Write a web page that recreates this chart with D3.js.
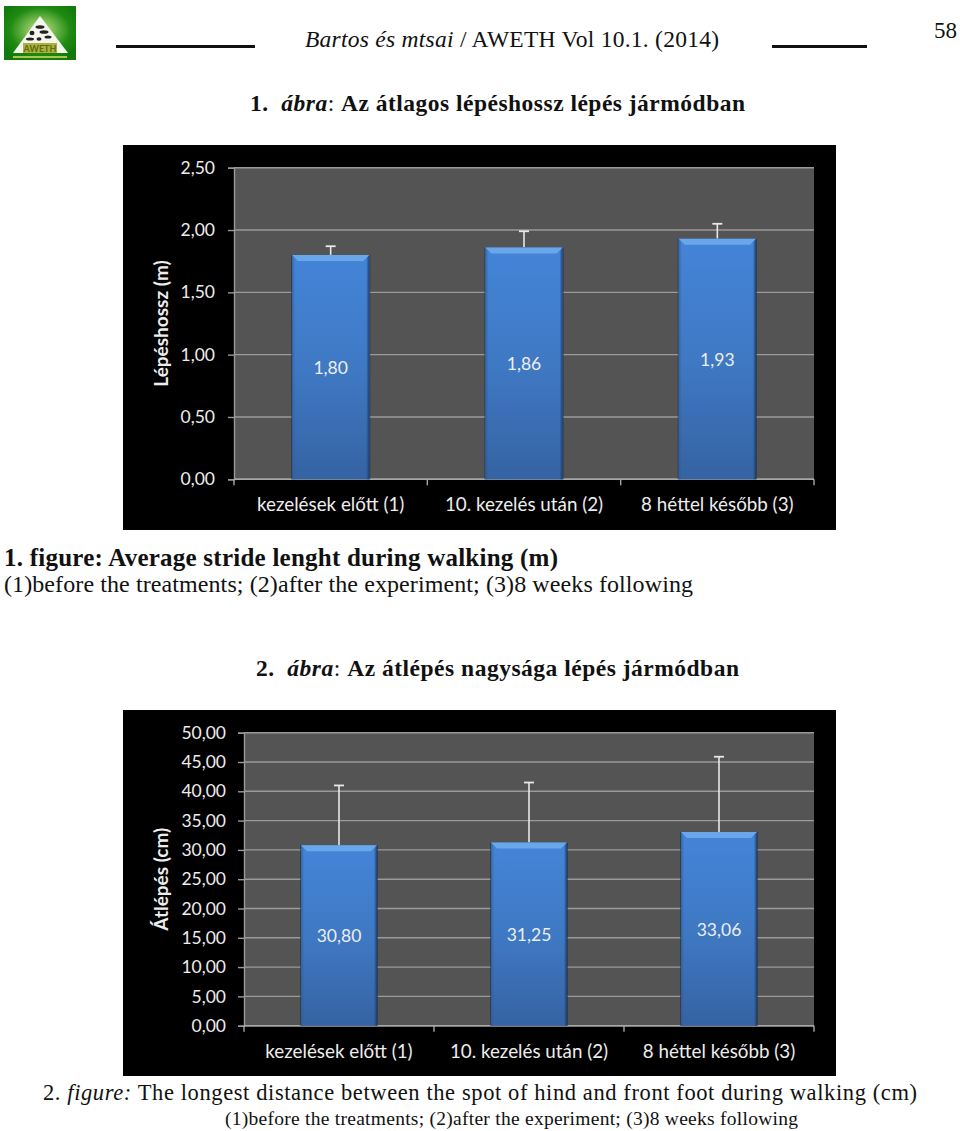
<!DOCTYPE html>
<html><head><meta charset="utf-8">
<script src="https://cdn.jsdelivr.net/npm/d3@7"></script>
<style>html,body{margin:0;padding:0;background:#fff}svg{display:block}
text{font-family:"Liberation Serif",serif;fill:#111}
.c text{font-family:Lato,sans-serif;fill:#ededed}</style></head><body><script>
const categories=["kezelések előtt (1)","10. kezelés után (2)","8 héttel később (3)"];
const strideValues=[1.80,1.86,1.93];
const strideErrorTops=[1.87,1.99,2.05];
const strideTicks=[0,0.5,1,1.5,2,2.5];
const crossValues=[30.80,31.25,33.06];
const crossErrorTops=[41.0,41.5,45.9];
const crossTicks=[0,5,10,15,20,25,30,35,40,45,50];
const comma=d3.format(",.2f");
const fmt=v=>comma(v).replace(".",",");

const svg=d3.select("body").append("svg").attr("width",960).attr("height",1131);
const defs=svg.append("defs");
const g1=defs.append("linearGradient").attr("id","bar").attr("x1",0).attr("x2",0).attr("y1",0).attr("y2",1);
g1.append("stop").attr("offset","0").attr("stop-color","#4484d8");
g1.append("stop").attr("offset","0.5").attr("stop-color","#3f79c4");
g1.append("stop").attr("offset","1").attr("stop-color","#3563a3");
const g2=defs.append("linearGradient").attr("id","side").attr("x1",0).attr("x2",1).attr("y1",0).attr("y2",0);
g2.append("stop").attr("offset","0").attr("stop-color","#2c5a96").attr("stop-opacity",.7);
g2.append("stop").attr("offset","0.04").attr("stop-color","#2c5a96").attr("stop-opacity",0);
g2.append("stop").attr("offset","0.96").attr("stop-color","#173a66").attr("stop-opacity",0);
g2.append("stop").attr("offset","1").attr("stop-color","#173a66").attr("stop-opacity",.9);
const g3=defs.append("radialGradient").attr("id","logoGlow").attr("cx","50%").attr("cy","45%").attr("r","60%");
g3.append("stop").attr("offset","0").attr("stop-color","#c9e88a");
g3.append("stop").attr("offset","0.7").attr("stop-color","#1f8a12");
g3.append("stop").attr("offset","1").attr("stop-color","#127a0c");

function chart(o){
  const g=svg.append("g").attr("class","c");
  g.append("rect").attr("x",o.px0).attr("y",o.py0).attr("width",o.px1-o.px0).attr("height",o.py1-o.py0).attr("fill","#000");
  const x=d3.scaleBand().domain(categories).range([o.x0,o.x1]).paddingInner(0.6).paddingOuter(0.3);
  const outer=d3.scaleBand().domain(categories).range([o.x0,o.x1]);
  const y=d3.scaleLinear().domain(o.domain).range([o.y0,o.y1]);
  g.append("rect").attr("x",o.x0).attr("y",o.y1).attr("width",o.x1-o.x0).attr("height",o.y0-o.y1).attr("fill","#545454");
  const ya=g.append("g").attr("transform",`translate(${o.x0},0)`)
    .call(d3.axisLeft(y).tickValues(o.ticks).tickFormat(fmt).tickSize(6).tickPadding(o.tickPad));
  ya.selectAll("text").attr("font-size",o.fsTick).attr("font-family","Lato,sans-serif").style("fill","#ededed");
  ya.selectAll("line").attr("stroke","#9a9a9a").attr("stroke-width",1.4);
  ya.select(".domain").attr("stroke","#9a9a9a").attr("stroke-width",1.4);
  g.append("g").selectAll("line").data(o.ticks).join("line")
    .attr("x1",o.x0).attr("x2",o.x1).attr("y1",d=>y(d)).attr("y2",d=>y(d))
    .attr("stroke","#9a9a9a").attr("stroke-width",1.4);
  const xa=g.append("g").attr("transform",`translate(0,${o.y0})`);
  xa.append("line").attr("x1",o.x0).attr("x2",o.x1).attr("stroke","#a8a8a8").attr("stroke-width",1.4);
  const edges=categories.map(c=>outer(c)).concat([o.x1]);
  xa.selectAll(".t").data(edges).join("line").attr("class","t").attr("x1",d=>d).attr("x2",d=>d).attr("y1",0).attr("y2",6).attr("stroke","#a8a8a8").attr("stroke-width",1.4);
  xa.selectAll("text").data(categories).join("text").attr("x",d=>outer(d)+outer.bandwidth()/2).attr("y",o.catY)
    .attr("text-anchor","middle").attr("font-size",o.fsCat).text(d=>d);
  const rows=categories.map((c,i)=>({c,v:o.values[i],e:o.errs[i]}));
  const b=g.append("g").selectAll("g").data(rows).join("g");
  const bw=x.bandwidth();
  b.append("line").attr("x1",d=>x(d.c)+bw/2).attr("x2",d=>x(d.c)+bw/2).attr("y1",d=>y(d.e)).attr("y2",d=>y(d.v)).attr("stroke","#e8e8e8").attr("stroke-width",1.6);
  b.append("line").attr("x1",d=>x(d.c)+bw/2-5).attr("x2",d=>x(d.c)+bw/2+5).attr("y1",d=>y(d.e)).attr("y2",d=>y(d.e)).attr("stroke","#e8e8e8").attr("stroke-width",1.8);
  b.append("rect").attr("x",d=>x(d.c)-1).attr("y",d=>y(d.v)).attr("width",bw+2).attr("height",d=>o.y0-y(d.v)).attr("fill","#1b2a40").attr("opacity",.55);
  b.append("rect").attr("x",d=>x(d.c)).attr("y",d=>y(d.v)).attr("width",bw).attr("height",d=>o.y0-y(d.v)).attr("fill","url(#bar)");
  b.append("rect").attr("x",d=>x(d.c)).attr("y",d=>y(d.v)).attr("width",bw).attr("height",d=>o.y0-y(d.v)).attr("fill","url(#side)");
  b.append("path").attr("d",d=>{const l=x(d.c),r=l+bw,t=y(d.v);return `M${l},${t}H${r}L${r-6},${t+6}H${l+6}Z`;}).attr("fill","#6aa6ea");
  b.append("text").attr("x",d=>x(d.c)+bw/2).attr("y",d=>(y(d.v)+o.y0)/2+7).attr("text-anchor","middle").attr("font-size",o.fsTick).text(d=>fmt(d.v));
  g.append("text").attr("transform",`translate(${o.ylabX},${(o.y0+o.y1)/2+o.ylabDy}) rotate(-90)`).attr("text-anchor","middle")
    .attr("font-size",o.fsLab).attr("font-weight",700).text(o.ylabel);
}
chart({px0:123,px1:836,py0:145,py1:530,x0:234,x1:814,y0:479.3,y1:167.7,domain:[0,2.5],ticks:strideTicks,values:strideValues,errs:strideErrorTops,
  ylabel:"Lépéshossz (m)",ylabX:168,ylabDy:0,fsTick:17.5,fsCat:18.8,fsLab:19,tickPad:13,catY:32});
chart({px0:123,px1:836,py0:710,py1:1076,x0:244,x1:814,y0:1025.7,y1:732.7,domain:[0,50],ticks:crossTicks,values:crossValues,errs:crossErrorTops,
  ylabel:"Átlépés (cm)",ylabX:168,ylabDy:0,fsTick:17.5,fsCat:18.8,fsLab:19,tickPad:12,catY:32});

// page text
function t(x,y,size,parts,len){
  const el=svg.append("text").attr("x",x).attr("y",y).attr("font-size",size);
  if(len) el.attr("textLength",len).attr("lengthAdjust","spacing");
  parts.forEach(p=>el.append("tspan").attr("font-style",p.i?"italic":null).attr("font-weight",p.b?700:null).text(p.s));
  return el;
}
t(305,47,23.5,[{s:"Bartos és mtsai",i:1},{s:" / AWETH Vol 10.1. (2014)"}],414);
t(934,38,23,[{s:"58"}]);
svg.append("rect").attr("x",116).attr("y",45).attr("width",139).attr("height",3).attr("fill","#111");
svg.append("rect").attr("x",772).attr("y",45).attr("width",95).attr("height",3).attr("fill","#111");
t(250,111,23.5,[{s:"1.\u00a0\u00a0",b:1},{s:"ábra",b:1,i:1},{s:": ",i:0},{s:"Az átlagos lépéshossz lépés jármódban",b:1}],495);
t(4,566,25,[{s:"1. figure: Average stride lenght during walking (m)",b:1}],554);
t(4,592,24,[{s:"(1)before the treatments; (2)after the experiment; (3)8 weeks following"}],689);
t(256,676,23.5,[{s:"2.\u00a0\u00a0",b:1},{s:"ábra",b:1,i:1},{s:": ",i:0},{s:"Az átlépés nagysága lépés jármódban",b:1}],483);
t(43,1100,22.5,[{s:"2. "},{s:"figure:",i:1},{s:" The longest distance between the spot of hind and front foot during walking (cm)"}],874);
t(225,1125,19.5,[{s:"(1)before the treatments; (2)after the experiment; (3)8 weeks following"}],573);

// logo
const logo=svg.append("g");
logo.append("rect").attr("x",4).attr("y",6).attr("width",72).attr("height",54).attr("fill","url(#logoGlow)");
logo.append("path").attr("d","M40,16L68,53H13Z").attr("fill","#f4f6ee");
logo.append("rect").attr("x",23).attr("y",43).attr("width",34).attr("height",10).attr("fill","#a9b23c");
logo.append("text").attr("x",40).attr("y",52).attr("text-anchor","middle").attr("font-size",9).attr("font-weight",700).style("font-family","Lato,sans-serif").style("fill","#5f6a12").text("AWETH");
logo.append("rect").attr("x",13).attr("y",56).attr("width",54).attr("height",2).attr("fill","#a7c84a");
[[40,27,8,3],[44,32,8,3],[32,33,4,4],[30,39,7,2.5],[39,39,4,3],[48,37,6,2.5]].forEach(a=>
  logo.append("ellipse").attr("cx",a[0]).attr("cy",a[1]).attr("rx",a[2]/2+.5).attr("ry",a[3]/2+.3).attr("fill","#222"));
</script></body></html>
